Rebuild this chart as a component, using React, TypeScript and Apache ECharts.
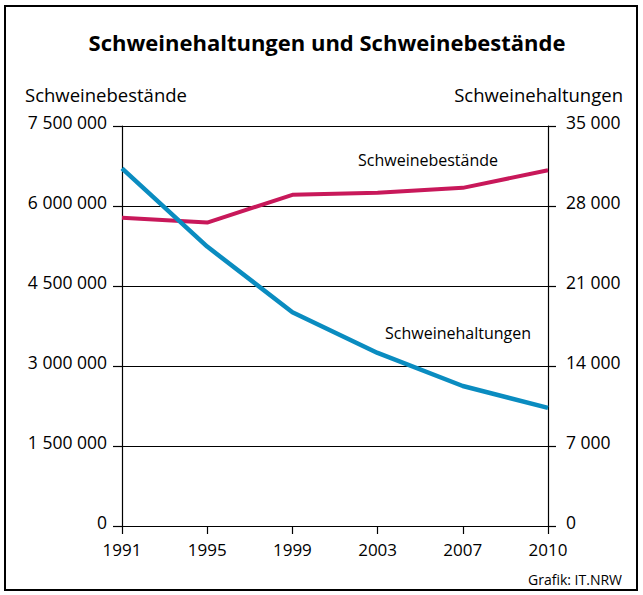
import React, { useEffect, useRef } from "react";
import * as echarts from "echarts";

const years = ["1991", "1995", "1999", "2003", "2007", "2010"];
const bestaende = [5780000, 5690000, 6210000, 6250000, 6340000, 6670000];
const haltungen = [31300, 24450, 18700, 15140, 12250, 10330];
const leftTicks = [0, 1500000, 3000000, 4500000, 6000000, 7500000];
const rightTicks = [0, 7000, 14000, 21000, 28000, 35000];

const FONT = "Open Sans";
const PINK = "#c8185a";
const BLUE = "#0a8cc0";

const fmt = (v: number) => String(Math.round(v)).replace(/\B(?=(\d{3})+(?!\d))/g, " ");

export default function App() {
  const ref = useRef<HTMLDivElement>(null);
  useEffect(() => {
    if (!ref.current) return;
    const chart = echarts.init(ref.current, null, { renderer: "svg" });
    chart.setOption({
      animation: false,
      backgroundColor: "#fff",
      textStyle: { fontFamily: FONT },
      grid: { left: 122, right: 95, top: 126, bottom: 69, containLabel: false },
      xAxis: {
        type: "category",
        data: years,
        boundaryGap: false,
        axisLine: { lineStyle: { color: "#000", width: 1.2 } },
        axisTick: { show: true, length: 8, lineStyle: { color: "#000", width: 1.2 } },
        axisLabel: { color: "#000", fontSize: 17, margin: 15, fontFamily: FONT },
        splitLine: { show: false },
      },
      yAxis: [
        {
          type: "value",
          min: leftTicks[0],
          max: leftTicks[leftTicks.length - 1],
          interval: leftTicks[1] - leftTicks[0],
          axisLine: { show: true, lineStyle: { color: "#000", width: 1.2 } },
          axisTick: { show: true, length: 9, lineStyle: { color: "#000", width: 1.2 } },
          axisLabel: {
            color: "#000",
            fontSize: 17.5,
            margin: 15,
            fontFamily: FONT,
            verticalAlign: "bottom",
            lineHeight: 8,
            formatter: (v: number) => fmt(v),
          },
          splitLine: { show: true, lineStyle: { color: "#000", width: 1 } },
        },
        {
          type: "value",
          min: rightTicks[0],
          max: rightTicks[rightTicks.length - 1],
          interval: rightTicks[1] - rightTicks[0],
          position: "right",
          axisLine: { show: true, lineStyle: { color: "#000", width: 1.2 } },
          axisTick: { show: true, length: 8, lineStyle: { color: "#000", width: 1.2 } },
          axisLabel: {
            color: "#000",
            fontSize: 17.5,
            margin: 18,
            fontFamily: FONT,
            verticalAlign: "bottom",
            lineHeight: 8,
            formatter: (v: number) => fmt(v),
          },
          splitLine: { show: false },
        },
      ],
      series: [
        {
          name: "Schweinebestände",
          type: "line",
          yAxisIndex: 0,
          data: bestaende,
          symbol: "none",
          lineStyle: { color: PINK, width: 4 },
          itemStyle: { color: PINK },
        },
        {
          name: "Schweinehaltungen",
          type: "line",
          yAxisIndex: 1,
          data: haltungen,
          symbol: "none",
          lineStyle: { color: BLUE, width: 4.5 },
          itemStyle: { color: BLUE },
        },
      ],
      graphic: [
        {
          type: "rect",
          shape: { x: 5, y: 6, width: 632, height: 584 },
          style: { fill: "none", stroke: "#000", lineWidth: 2 },
          z: 10,
        },
        {
          type: "text",
          x: 327,
          y: 42,
          style: {
            text: "Schweinehaltungen und Schweinebestände",
            font: `bold 22px "${FONT}"`,
            fill: "#000",
            align: "center",
            verticalAlign: "middle",
          },
        },
        {
          type: "text",
          x: 25,
          y: 94,
          style: {
            text: "Schweinebestände",
            font: `18.5px "${FONT}"`,
            fill: "#000",
            align: "left",
            verticalAlign: "middle",
          },
        },
        {
          type: "text",
          x: 623,
          y: 94,
          style: {
            text: "Schweinehaltungen",
            font: `18.5px "${FONT}"`,
            fill: "#000",
            align: "right",
            verticalAlign: "middle",
          },
        },
        {
          type: "text",
          x: 358,
          y: 160,
          style: {
            text: "Schweinebestände",
            font: `16px "${FONT}"`,
            fill: "#000",
            align: "left",
            verticalAlign: "middle",
          },
        },
        {
          type: "text",
          x: 385,
          y: 333,
          style: {
            text: "Schweinehaltungen",
            font: `16px "${FONT}"`,
            fill: "#000",
            align: "left",
            verticalAlign: "middle",
          },
        },
        {
          type: "text",
          x: 622,
          y: 579,
          style: {
            text: "Grafik: IT.NRW",
            font: `14px "${FONT}"`,
            fill: "#000",
            align: "right",
            verticalAlign: "middle",
          },
        },
      ],
    });
    return () => chart.dispose();
  }, []);
  return (
    <div
      ref={ref}
      style={{ position: "absolute", left: 0, top: 0, width: 643, height: 595 }}
    />
  );
}
